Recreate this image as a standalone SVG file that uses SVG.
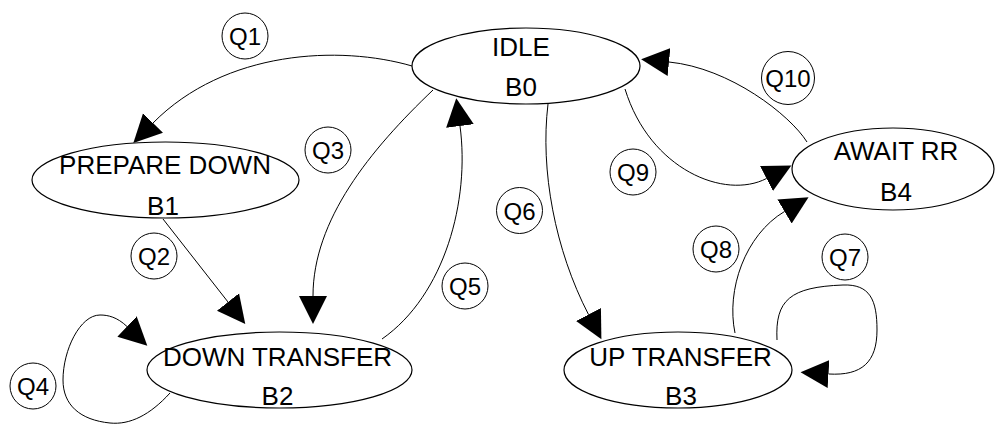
<svg xmlns="http://www.w3.org/2000/svg" width="995" height="424" viewBox="0 0 995 424">
<style>
.st{fill:#fff;stroke:#000;stroke-width:1.2}
.lb{fill:none;stroke:#000;stroke-width:1}
.ed{fill:none;stroke:#000;stroke-width:1;marker-end:url(#ah)}
.t{font-family:"Liberation Sans",Arial,sans-serif;font-size:26px;fill:#000;text-anchor:middle}
.q{font-family:"Liberation Sans",Arial,sans-serif;font-size:24px;fill:#000;text-anchor:middle}
</style>
<defs>
<marker id="ah" viewBox="0 -15 30 30" refX="0" refY="0" markerWidth="30" markerHeight="30" markerUnits="userSpaceOnUse" orient="auto">
<path d="M0,-14 L28,0 L0,14 Z" fill="#000"/>
</marker>
</defs>
<rect width="995" height="424" fill="#fff"/>
<g id="connectors">
<path class="ed" d="M412,66 C340,45 225,50 153,123"/>
<path class="ed" d="M163,219 L228,302"/>
<path class="ed" d="M433,90 C370,150 313,220 313,296"/>
<path class="ed" d="M170,393 C150,415 130,425 110,423 C80,420 63,405 63,380 C63,350 80,315 100,315 C108,315 117,317 127,326.5"/>
<path class="ed" d="M382,339 C445,295 470,200 460,126"/>
<path class="ed" d="M548,104 C540,170 555,250 588.5,314.5"/>
<path class="ed" d="M777,340 C775,300 790,287 843,285 C870,284 877,300 877,330 C877,362 862,376 828.5,374"/>
<path class="ed" d="M735,333 C726,290 745,235 784.5,211.5"/>
<path class="ed" d="M625,89 C650,170 725,200 766.5,178.5"/>
<path class="ed" d="M807,142 C790,115 730,68 669,62"/>
</g>
<g id="labels">
<g id="q1"><circle class="lb" cx="245" cy="36" r="23"/><text class="q" x="245" y="45">Q1</text></g>
<g id="q2"><circle class="lb" cx="154" cy="256" r="23"/><text class="q" x="154" y="265">Q2</text></g>
<g id="q3"><circle class="lb" cx="328" cy="150" r="23"/><text class="q" x="328" y="159">Q3</text></g>
<g id="q4"><circle class="lb" cx="33" cy="386" r="23"/><text class="q" x="33" y="395">Q4</text></g>
<g id="q5"><circle class="lb" cx="465" cy="286" r="23"/><text class="q" x="465" y="295">Q5</text></g>
<g id="q6"><circle class="lb" cx="519.5" cy="210.5" r="23"/><text class="q" x="519.5" y="219.5">Q6</text></g>
<g id="q7"><circle class="lb" cx="845" cy="257" r="23"/><text class="q" x="845" y="266">Q7</text></g>
<g id="q8"><circle class="lb" cx="716" cy="249" r="23"/><text class="q" x="716" y="258">Q8</text></g>
<g id="q9"><circle class="lb" cx="633" cy="172" r="23"/><text class="q" x="633" y="181">Q9</text></g>
<g id="q10"><circle class="lb" cx="788" cy="78" r="26.5"/><text class="q" x="788" y="87">Q10</text></g>
</g>
<g id="idle"><ellipse class="st" cx="526" cy="66" rx="114" ry="38"/><text class="t" x="521" y="56">IDLE</text><text class="t" x="521" y="96">B0</text></g>
<g id="prepare-down"><ellipse class="st" cx="165.5" cy="180" rx="133.5" ry="38"/><text class="t" x="165" y="174">PREPARE DOWN</text><text class="t" x="163" y="215">B1</text></g>
<g id="down-transfer"><ellipse class="st" cx="279.5" cy="370" rx="132.5" ry="38"/><text class="t" x="277.5" y="366">DOWN TRANSFER</text><text class="t" x="277.5" y="405">B2</text></g>
<g id="up-transfer"><ellipse class="st" cx="678" cy="370" rx="114" ry="38"/><text class="t" x="680.5" y="366">UP TRANSFER</text><text class="t" x="681" y="405">B3</text></g>
<g id="await-rr"><ellipse class="st" cx="893" cy="169" rx="101" ry="41"/><text class="t" x="896" y="160">AWAIT RR</text><text class="t" x="896" y="201">B4</text></g>
</svg>
